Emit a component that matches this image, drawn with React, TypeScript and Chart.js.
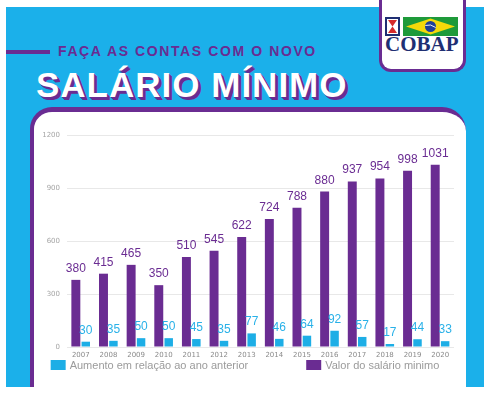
import React, { useEffect, useRef } from 'react';
import { Chart, registerables } from 'chart.js';

Chart.register(...registerables);

const years = ['2007', '2008', '2009', '2010', '2011', '2012', '2013', '2014', '2015', '2016', '2017', '2018', '2019', '2020'];
const salarioMinimo = [380, 415, 465, 350, 510, 545, 622, 724, 788, 880, 937, 954, 998, 1031];
const aumentoAnual = [30, 35, 50, 50, 45, 35, 77, 46, 64, 92, 57, 17, 44, 33];
const yTickValues = [0, 300, 600, 900, 1200];

const LABEL_SALARIO = 'Valor do salário minimo';
const LABEL_AUMENTO = 'Aumento em relação ao ano anterior';

const PURPLE = '#6A2C92';
const BLUE = '#1DAEE6';
const BG_BLUE = '#1BB0EA';

const valueLabels = {
  id: 'valueLabels',
  afterDatasetsDraw(chart: any) {
    const ctx = chart.ctx;
    ctx.save();
    ctx.font = '12px "Liberation Sans", Arial, sans-serif';
    ctx.textAlign = 'center';
    ctx.textBaseline = 'alphabetic';
    chart.data.datasets.forEach((ds: any, i: number) => {
      const meta = chart.getDatasetMeta(i);
      ctx.fillStyle = ds.labelColor || ds.backgroundColor;
      meta.data.forEach((bar: any, j: number) => {
        ctx.fillText(String(ds.data[j]), bar.x, bar.y - 8);
      });
    });
    ctx.restore();
  },
};

const bottomLegend = {
  id: 'bottomLegend',
  afterDraw(chart: any) {
    const ctx = chart.ctx;
    const items = chart.data.datasets
      .map((ds: any) => ({ text: ds.label, color: ds.backgroundColor }))
      .reverse();
    const boxW = 15;
    const boxH = 10;
    const boxGap = 4;
    const itemGap = 58;
    ctx.save();
    ctx.font = '11px "Liberation Sans", Arial, sans-serif';
    const widths = items.map((it: any) => boxW + boxGap + ctx.measureText(it.text).width);
    const total = widths.reduce((a: number, b: number) => a + b, 0) + itemGap * (items.length - 1);
    let x = (chart.width - total) / 2 - 2;
    const y = chart.chartArea.bottom + 18;
    ctx.textBaseline = 'middle';
    ctx.textAlign = 'left';
    items.forEach((it: any, i: number) => {
      ctx.fillStyle = it.color;
      ctx.fillRect(x, y - boxH / 2, boxW, boxH);
      ctx.fillStyle = '#9B9B9B';
      ctx.fillText(it.text, x + boxW + boxGap, y + 1);
      x += widths[i] + itemGap;
    });
    ctx.restore();
  },
};

function SalaryChart() {
  const ref = useRef<HTMLCanvasElement | null>(null);
  useEffect(() => {
    if (!ref.current) return;
    const chart = new Chart(ref.current, {
      type: 'bar',
      data: {
        labels: years,
        datasets: [
          {
            label: LABEL_SALARIO,
            data: salarioMinimo,
            backgroundColor: PURPLE,
            labelColor: PURPLE,
            categoryPercentage: 0.72,
            barPercentage: 0.9,
          } as any,
          {
            label: LABEL_AUMENTO,
            data: aumentoAnual,
            backgroundColor: BLUE,
            labelColor: '#29B1E8',
            categoryPercentage: 0.72,
            barPercentage: 0.85,
          } as any,
        ],
      },
      options: {
        responsive: false,
        animation: false,
        layout: { padding: { top: 23, right: 9, left: 0, bottom: 23 } },
        plugins: {
          legend: { display: false },
          tooltip: { enabled: false },
        },
        scales: {
          x: {
            grid: { display: false, drawTicks: false },
            border: { display: false },
            ticks: {
              color: '#8A8A8A',
              font: { size: 7, family: '"DejaVu Sans", sans-serif' },
              padding: 4,
              maxRotation: 0,
              autoSkip: false,
            },
            afterFit: (s: any) => { s.height = 14; },
          },
          y: {
            min: 0,
            max: 1200,
            afterBuildTicks: (s: any) => { s.ticks = yTickValues.map((v) => ({ value: v })); },
            grid: { color: '#E8E8E8', drawTicks: false, lineWidth: 1 },
            border: { display: false },
            ticks: {
              color: '#A5A5A5',
              font: { size: 7, family: '"DejaVu Sans", sans-serif' },
              padding: 7,
              callback: (v: any) => String(v),
            },
            afterFit: (s: any) => { s.width = 36; },
          },
        },
      },
      plugins: [valueLabels, bottomLegend],
    } as any);
    return () => chart.destroy();
  }, []);
  return (
    <canvas
      ref={ref}
      width={432}
      height={272}
      style={{ position: 'absolute', left: 31, top: 112, width: 432, height: 272 }}
    />
  );
}

function Logo() {
  return (
    <div
      style={{
        position: 'absolute',
        left: 379,
        top: 0,
        width: 81,
        height: 69,
        background: '#fff',
        borderLeft: `3px solid ${PURPLE}`,
        borderRight: `3px solid ${PURPLE}`,
        borderBottom: `3px solid ${PURPLE}`,
        borderBottomLeftRadius: 12,
        borderBottomRightRadius: 12,
      }}
    >
      <svg width="81" height="40" style={{ position: 'absolute', left: 0, top: 0 }}>
        <rect x="4" y="18" width="13" height="17" fill="#fff" stroke="#1F2F73" strokeWidth="2" />
        <path d="M6 20 L15 20 L10.5 26.5 Z" fill="#D62B2B" />
        <path d="M6 33 L15 33 L10.5 26.5 Z" fill="#D62B2B" />
        <rect x="21" y="17" width="55" height="19" fill="#1E9A3A" />
        <path d="M24 26.5 L48.5 18.5 L73 26.5 L48.5 34.5 Z" fill="#F5D90A" />
        <circle cx="48.5" cy="26.5" r="5.5" fill="#1E3F9A" />
        <path d="M43.3 25.5 Q48.5 23.5 53.7 27.5" stroke="#fff" strokeWidth="0.9" fill="none" />
      </svg>
      <div
        style={{
          position: 'absolute',
          left: 3,
          top: 34,
          fontFamily: '"Liberation Serif", "DejaVu Serif", serif',
          fontWeight: 'bold',
          fontSize: 21,
          lineHeight: '21px',
          color: '#1F2F73',
          whiteSpace: 'nowrap',
        }}
      >
        COBAP
      </div>
    </div>
  );
}

export default function App() {
  return (
    <div style={{ position: 'absolute', left: 0, top: 0, width: 487, height: 395, background: '#fff', overflow: 'hidden' }}>
      <div style={{ position: 'absolute', left: 6, top: 7, width: 478, height: 380, background: BG_BLUE }} />
      <div
        style={{
          position: 'absolute',
          left: 30,
          top: 107,
          width: 432,
          height: 275,
          background: '#fff',
          borderTop: `5px solid ${PURPLE}`,
          borderLeft: `4px solid ${PURPLE}`,
          borderTopLeftRadius: 22,
          borderTopRightRadius: 24,
        }}
      />
      <div style={{ position: 'absolute', left: 6, top: 50, width: 44, height: 4, background: PURPLE }} />
      <div
        style={{
          position: 'absolute',
          left: 58,
          top: 44,
          fontFamily: '"Liberation Sans", Arial, sans-serif',
          fontWeight: 'bold',
          fontSize: 14,
          lineHeight: '14px',
          letterSpacing: 1.6,
          color: PURPLE,
          whiteSpace: 'nowrap',
        }}
      >
        FAÇA AS CONTAS COM O NOVO
      </div>
      <div
        style={{
          position: 'absolute',
          left: 36,
          top: 67,
          fontFamily: '"Liberation Sans", Arial, sans-serif',
          fontWeight: 'bold',
          fontSize: 35,
          lineHeight: '35px',
          letterSpacing: 1,
          color: '#fff',
          whiteSpace: 'nowrap',
          textShadow: `1px 1px 0 ${PURPLE}, 2px 2px 0 ${PURPLE}, 3px 3px 0 ${PURPLE}`,
        }}
      >
        SALÁRIO MÍNIMO
      </div>
      <Logo />
      <SalaryChart />
    </div>
  );
}
